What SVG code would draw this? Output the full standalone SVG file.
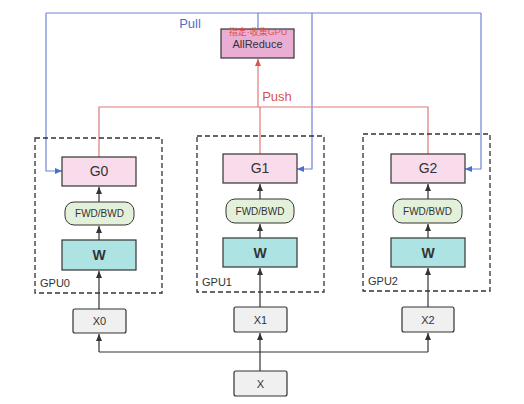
<svg xmlns="http://www.w3.org/2000/svg" width="524" height="404" viewBox="0 0 524 404">
<defs>
<marker id="ak" markerWidth="8" markerHeight="8" refX="7" refY="4" orient="auto" markerUnits="userSpaceOnUse"><path d="M0,1 L7,4 L0,7 Z" fill="#333"/></marker>
<marker id="ab" markerWidth="8" markerHeight="8" refX="7" refY="4" orient="auto" markerUnits="userSpaceOnUse"><path d="M0,1 L7,4 L0,7 Z" fill="#4a6fd0"/></marker>
<marker id="ar" markerWidth="8" markerHeight="8" refX="7" refY="4" orient="auto" markerUnits="userSpaceOnUse"><path d="M0,1 L7,4 L0,7 Z" fill="#d9534f"/></marker>
</defs>
<style>
text{font-family:"Liberation Sans",Arial,sans-serif;fill:#333;text-anchor:middle}
.gpu{fill:none;stroke:#333;stroke-width:1.3;stroke-dasharray:5 3}
.g{fill:#f9dceb;stroke:#333;stroke-width:1.2}
.w{fill:#aee3e4;stroke:#333;stroke-width:1.2}
.f{fill:#e4f1da;stroke:#333;stroke-width:1}
.x{fill:#f0f0f0;stroke:#333;stroke-width:1.2}
.ar{fill:#eaaed5;stroke:#333;stroke-width:1.2}
.big{font-size:14px}
.wt{font-size:14px;font-weight:bold}
.mid{font-size:10px}
.sm{font-size:11px}
.lbl{font-size:11px;text-anchor:start}
.k{fill:none;stroke:#333;stroke-width:1.2;marker-end:url(#ak)}
.kn{fill:none;stroke:#333;stroke-width:1.2}
.b{fill:none;stroke:#6f86d6;stroke-width:1.2}
.bm{fill:none;stroke:#6f86d6;stroke-width:1.2;marker-end:url(#ab)}
.r{fill:none;stroke:#e07a78;stroke-width:1.2}
.rm{fill:none;stroke:#e07a78;stroke-width:1.2;marker-end:url(#ar)}
</style>
<rect width="524" height="404" fill="#fff"/>

<g id="connectors">
<path class="b" d="M46,13 H481"/>
<path class="b" d="M258,13 V29" stroke="#8c94b0"/>
<path class="bm" d="M46,13 V171 H62"/>
<path class="bm" d="M312,13 V169 H297"/>
<path class="bm" d="M481,13 V169 H465"/>
<path class="rm" d="M258,107 V59"/>
<path class="r" d="M99,157 V107 H428 V154"/>
<path class="r" d="M260,107 V154"/>
<path class="k" d="M99,202 V187"/>
<path class="k" d="M99,240 V226"/>
<path class="k" d="M99,309 V271"/>
<path class="k" d="M260,199 V184"/>
<path class="k" d="M260,238 V224"/>
<path class="k" d="M260,307 V268"/>
<path class="k" d="M428,199 V184"/>
<path class="k" d="M428,238 V224"/>
<path class="k" d="M428,307 V268"/>
<path class="kn" d="M99,352 H428"/>
<path class="k" d="M99,352 V334"/>
<path class="k" d="M428,352 V333"/>
<path class="k" d="M260,371 V333"/>
</g>

<text x="190" y="28" style="font-size:13px;fill:#4a6fd0">Pull</text>
<text x="277" y="101" style="font-size:13px;fill:#d9534f">Push</text>

<g id="allreduce">
<rect class="ar" x="221" y="29" width="73" height="29"/>
<text x="257.5" y="48" class="sm">AllReduce</text>
<text x="258" y="35" style="font-size:9px;fill:#d9534f;font-family:'Liberation Sans','Noto Sans CJK SC',sans-serif">指定·收集GPU</text>
</g>

<g id="gpu0">
<rect class="gpu" x="35" y="138" width="127" height="155"/>
<text x="40" y="287" class="lbl">GPU0</text>
</g>
<g id="g0"><rect class="g" x="62" y="157" width="74" height="29"/><text x="99" y="176" class="big">G0</text></g>
<g id="fwd0"><rect class="f" x="65" y="202" width="69" height="23" rx="9"/><text x="99.5" y="217" class="mid">FWD/BWD</text></g>
<g id="w0"><rect class="w" x="62" y="240" width="74" height="30"/><text x="99" y="260" class="wt">W</text></g>

<g id="gpu1">
<rect class="gpu" x="197" y="136" width="127" height="156"/>
<text x="202" y="286" class="lbl">GPU1</text>
</g>
<g id="g1"><rect class="g" x="223" y="154" width="74" height="29"/><text x="260" y="173" class="big">G1</text></g>
<g id="fwd1"><rect class="f" x="226" y="199" width="68" height="24" rx="9"/><text x="260" y="214.5" class="mid">FWD/BWD</text></g>
<g id="w1"><rect class="w" x="223" y="238" width="74" height="29"/><text x="260" y="258" class="wt">W</text></g>

<g id="gpu2">
<rect class="gpu" x="363" y="134" width="127" height="157"/>
<text x="368" y="285" class="lbl">GPU2</text>
</g>
<g id="g2"><rect class="g" x="391" y="154" width="74" height="29"/><text x="428" y="173" class="big">G2</text></g>
<g id="fwd2"><rect class="f" x="393" y="199" width="69" height="24" rx="9"/><text x="427.5" y="214.5" class="mid">FWD/BWD</text></g>
<g id="w2"><rect class="w" x="391" y="238" width="74" height="29"/><text x="428" y="258" class="wt">W</text></g>

<g id="x0"><rect class="x" x="73" y="309" width="53" height="24" rx="2"/><text x="99.5" y="325" class="sm">X0</text></g>
<g id="x1"><rect class="x" x="234" y="307" width="53" height="25" rx="2"/><text x="260.5" y="323.5" class="sm">X1</text></g>
<g id="x2"><rect class="x" x="402" y="307" width="52" height="25" rx="2"/><text x="428" y="323.5" class="sm">X2</text></g>
<g id="x"><rect class="x" x="234" y="371" width="53" height="25" rx="2"/><text x="260.5" y="387.5" class="sm">X</text></g>
</svg>
